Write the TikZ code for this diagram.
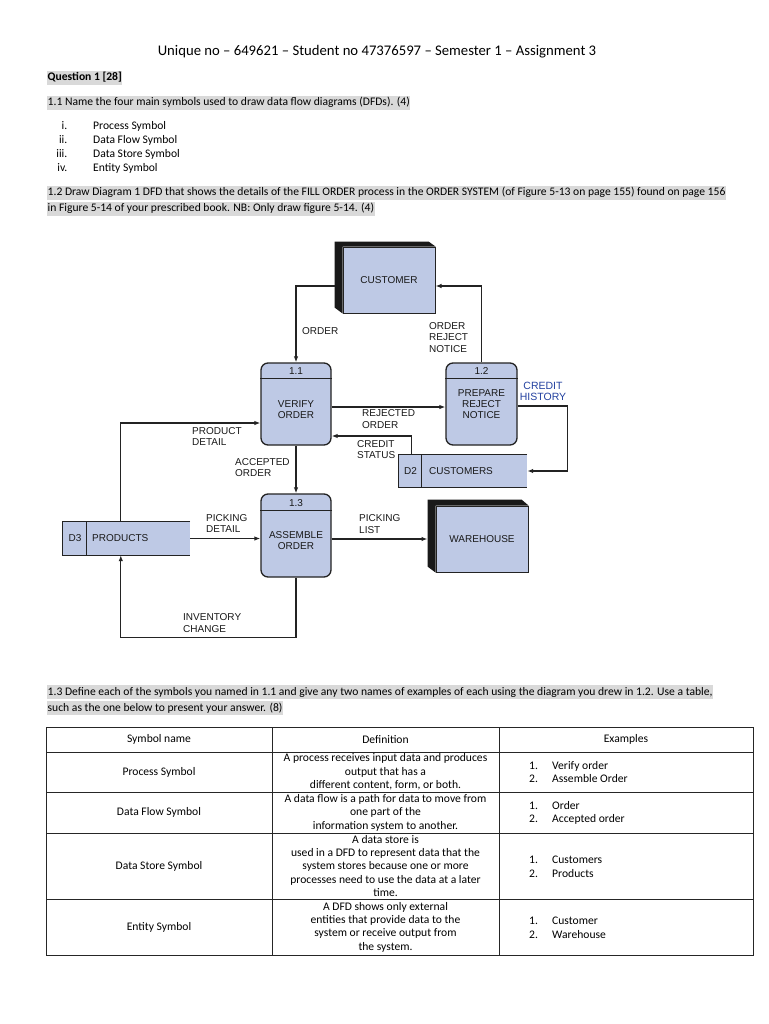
\documentclass[tikz,border=0pt]{standalone}
\usepackage{fontspec}
\setmainfont{Carlito}
\newfontfamily\diagfont{Liberation Sans}
\usetikzlibrary{arrows.meta,calc}
\definecolor{dfdblue}{RGB}{190,201,229}
\definecolor{dfdline}{RGB}{35,35,35}
\definecolor{hl}{RGB}{217,217,217}
\definecolor{histblue}{RGB}{35,65,160}
\begin{document}
\begin{tikzpicture}[x=1pt,y=-1pt,
  body/.style={font=\fontsize{11.6}{13.4}\selectfont, inner sep=0pt},
  hlt/.style={body, fill=hl, text height=9pt, text depth=3.2pt, inner xsep=0.5pt, inner ysep=0.6pt},
  dl/.style={font=\diagfont\fontsize{10}{11.5}\selectfont, text=black!90, inner sep=0pt, align=left, anchor=west},
  dc/.style={font=\diagfont\fontsize{10}{11}\selectfont, text=black!90, inner sep=0pt, align=center},
  flow/.style={draw=dfdline, line width=1.3pt, -{Latex[length=6pt,width=4.5pt]}},
  proc/.style={draw=dfdline, fill=dfdblue, line width=1.3pt, rounded corners=7pt, minimum width=70pt, minimum height=82pt, inner sep=0pt},
  ent/.style={draw=dfdline, fill=dfdblue, line width=1pt, minimum width=92pt, minimum height=66pt, inner sep=0pt, font=\diagfont\fontsize{10}{11.5}\selectfont, text=black!90},
  store/.style={fill=dfdblue, minimum height=32pt, inner sep=0pt},
  sline/.style={draw=dfdline, line width=1pt},
  tline/.style={draw=black!85, line width=1pt}
]
\useasboundingbox (0,0) rectangle (768,1024);
\fill[white] (0,0) rectangle (768,1024);

% ---------- header text ----------
\node[font=\fontsize{14.7}{17}\selectfont, inner sep=0pt, anchor=base] (title) at (377,56) {Unique no – 649621 – Student no 47376597 – Semester 1 – Assignment 3};
\node[hlt, anchor=base west, font=\bfseries\fontsize{11.6}{13.4}\selectfont] (q1) at (47,81) {Question 1 [28]};
\node[hlt, anchor=base west] (q11) at (47,106) {1.1 Name the four main symbols used to draw data flow diagrams (DFDs). (4)};
\node[body, anchor=base east] (r1) at (67.5,130) {i.};
\node[body, anchor=base east] (r2) at (67.5,144) {ii.};
\node[body, anchor=base east] (r3) at (67.5,158) {iii.};
\node[body, anchor=base east] (r4) at (67.5,172) {iv.};
\node[body, anchor=base west] (l1) at (93,130) {Process Symbol};
\node[body, anchor=base west] (l2) at (93,144) {Data Flow Symbol};
\node[body, anchor=base west] (l3) at (93,158) {Data Store Symbol};
\node[body, anchor=base west] (l4) at (93,172) {Entity Symbol};
\node[hlt, anchor=base west] (q12a) at (47,196) {1.2 Draw Diagram 1 DFD that shows the details of the FILL ORDER process in the ORDER SYSTEM (of Figure 5-13 on page 155) found on page 156};
\node[hlt, anchor=base west] (q12b) at (47,212) {in Figure 5-14 of your prescribed book. NB: Only draw figure 5-14. (4)};

% ---------- diagram ----------
% entities
\node[ent] (cust) at (389,280) {CUSTOMER};
\fill[black!90] ($(cust.north west)+(-8,-5)$) -- ($(cust.north east)+(-7,-5)$) -- (cust.north east) -- (cust.north west) -- (cust.south west) -- ($(cust.south west)+(-8,-6)$) -- cycle;
\node[ent] (wh) at (482,539) {WAREHOUSE};
\fill[black!90] ($(wh.north west)+(-8,-6)$) -- ($(wh.north east)+(-7,-6)$) -- (wh.north east) -- (wh.north west) -- (wh.south west) -- ($(wh.south west)+(-8,-6)$) -- cycle;

% processes
\node[proc] (p11) at (296,404) {};
\draw[sline, line width=1.3pt] ($(p11.north west)+(0,16)$) -- ($(p11.north east)+(0,16)$);
\node[dc] (n11) at (296,371) {1.1};
\node[dc] (t11) at (296,410) {VERIFY\\ORDER};

\node[proc, minimum width=71pt] (p12) at (481.5,404) {};
\draw[sline, line width=1.3pt] ($(p12.north west)+(0,16)$) -- ($(p12.north east)+(0,16)$);
\node[dc] (n12) at (481.5,371) {1.2};
\node[dc] (t12) at (481.5,404) {PREPARE\\REJECT\\NOTICE};

\node[proc, minimum height=83pt] (p13) at (296,535.5) {};
\draw[sline, line width=1.3pt] ($(p13.north west)+(0,17)$) -- ($(p13.north east)+(0,17)$);
\node[dc] (n13) at (296,503) {1.3};
\node[dc] (t13) at (296,541) {ASSEMBLE\\ORDER};

% data stores
\node[store, minimum width=128pt] (d2) at (463,471) {};
\draw[sline] (d2.north east) -- (d2.north west) -- (d2.south west) -- (d2.south east);
\draw[sline] ($(d2.north west)+(23,0)$) -- ($(d2.south west)+(23,0)$);
\node[dc] (d2id) at (410.5,471) {D2};
\node[dl] (d2name) at (429,471) {CUSTOMERS};

\node[store, minimum width=127pt, minimum height=33pt] (d3) at (126.5,538.5) {};
\draw[sline] (d3.north east) -- (d3.north west) -- (d3.south west) -- (d3.south east);
\draw[sline] ($(d3.north west)+(24,0)$) -- ($(d3.south west)+(24,0)$);
\node[dc] (d3id) at (75,538.5) {D3};
\node[dl] (d3name) at (92,538.5) {PRODUCTS};

% flows
\draw[flow] ([xshift=-8pt,yshift=-6pt]cust.west) -| (p11.north);
\draw[flow] (p12.north) |- ([yshift=-6pt]cust.east);
\draw[flow] ([yshift=-3pt]p11.east) -- ([yshift=-3pt]p12.west);
\draw[flow] ([xshift=13pt]d2.north west) |- ([yshift=-32pt]p11.east);
\draw[flow] ([yshift=-2pt]p12.east) -- ++(50,0) |- (d2.east);
\draw[flow] ([xshift=58pt]d3.north west) |- ([yshift=-19pt]p11.west);
\draw[flow] (p11.south) -- (p13.north);
\draw[flow] (d3.east) -- (d3.east -| p13.west);
\draw[flow] (p13.east |- wh.west) -- ([xshift=-8pt]wh.west);
\draw[flow] (p13.south) -- ++(0,60) -| ([xshift=58pt]d3.south west);

% flow labels
\node[dl] (lorder) at (302,331) {ORDER};
\node[dl] (lrej) at (429,337.5) {ORDER\\REJECT\\NOTICE};
\node[dl] (lrejo) at (362,419) {REJECTED\\ORDER};
\node[dl] (lcs) at (357,449.5) {CREDIT\\STATUS};
\node[dc, text=histblue, font=\diagfont\fontsize{10.5}{11.5}\selectfont] (lch) at (543,391.5) {CREDIT\\HISTORY};
\node[dl] (lpd) at (192,436.5) {PRODUCT\\DETAIL};
\node[dl] (lacc) at (235,467.5) {ACCEPTED\\ORDER};
\node[dl] (lpick) at (206,523.5) {PICKING\\DETAIL};
\node[dl] (lpl) at (359,524) {PICKING\\LIST};
\node[dl] (linv) at (183,623) {INVENTORY\\CHANGE};

% ---------- 1.3 ----------
\node[hlt, anchor=base west] (q13a) at (47,695) {1.3 Define each of the symbols you named in 1.1 and give any two names of examples of each using the diagram you drew in 1.2. Use a table,};
\node[hlt, anchor=base west] (q13b) at (47,711) {such as the one below to present your answer. (8)};

% table
\draw[tline] (46,727) rectangle (753,955);
\foreach \yy in {752,792,833,899} \draw[tline] (46,\yy) -- (753,\yy);
\draw[tline] (272,727) -- (272,955);
\draw[tline] (499,727) -- (499,955);

\node[body] (h1) at (159,739.5) {Symbol name};
\node[body] (h2) at (385.5,739.5) {Definition};
\node[body] (h3) at (626,739.5) {Examples};

\node[body] (s1) at (159,772) {Process Symbol};
\node[body] (s2) at (159,812.5) {Data Flow Symbol};
\node[body] (s3) at (159,866) {Data Store Symbol};
\node[body] (s4) at (159,927) {Entity Symbol};

\node[body, align=center] (df1) at (385.5,772) {A process receives input data and produces\\output that has a\\different content, form, or both.};
\node[body, align=center] (df2) at (385.5,812.5) {A data flow is a path for data to move from\\one part of the\\information system to another.};
\node[body, align=center] (df3) at (385.5,866) {A data store is\\used in a DFD to represent data that the\\system stores because one or more\\processes need to use the data at a later\\time.};
\node[body, align=center] (df4) at (385.5,927) {A DFD shows only external\\entities that provide data to the\\system or receive output from\\the system.};

\node[body, anchor=base west] (e1a) at (529,769) {1.};
\node[body, anchor=base west] (e1b) at (552,769) {Verify order};
\node[body, anchor=base west] (e2a) at (529,782) {2.};
\node[body, anchor=base west] (e2b) at (552,782) {Assemble Order};
\node[body, anchor=base west] (e3a) at (529,809) {1.};
\node[body, anchor=base west] (e3b) at (552,809) {Order};
\node[body, anchor=base west] (e4a) at (529,822) {2.};
\node[body, anchor=base west] (e4b) at (552,822) {Accepted order};
\node[body, anchor=base west] (e5a) at (529,863) {1.};
\node[body, anchor=base west] (e5b) at (552,863) {Customers};
\node[body, anchor=base west] (e6a) at (529,877) {2.};
\node[body, anchor=base west] (e6b) at (552,877) {Products};
\node[body, anchor=base west] (e7a) at (529,924) {1.};
\node[body, anchor=base west] (e7b) at (552,924) {Customer};
\node[body, anchor=base west] (e8a) at (529,938) {2.};
\node[body, anchor=base west] (e8b) at (552,938) {Warehouse};
\end{tikzpicture}
\end{document}
